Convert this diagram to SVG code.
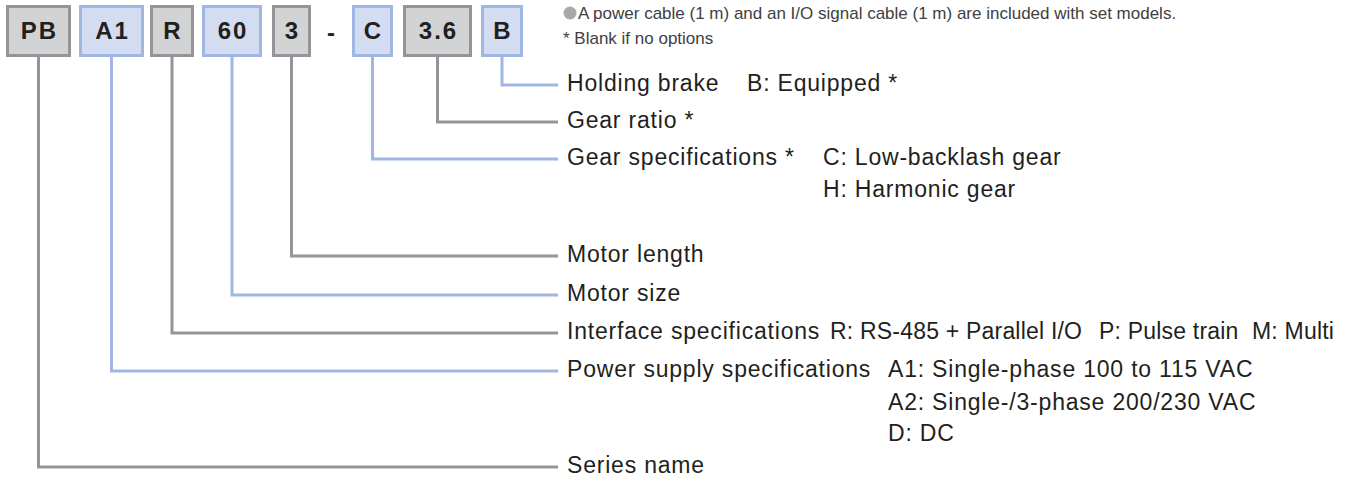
<svg xmlns="http://www.w3.org/2000/svg" width="1351" height="484" viewBox="0 0 1351 484">
<style>
.bg{fill:#d1d3d4;stroke:#939598;stroke-width:3}
.bb{fill:#d4dcf1;stroke:#9fb7e2;stroke-width:3}
.code{font-family:"Liberation Sans",Arial,sans-serif;font-weight:bold;font-size:24px;fill:#231f20;text-anchor:middle;letter-spacing:2px}
.lg{fill:none;stroke:#939598;stroke-width:3}
.lb{fill:none;stroke:#9fb7e2;stroke-width:3}
.lbl{font-family:"Liberation Sans",Arial,sans-serif;font-size:23px;fill:#231f20;letter-spacing:0.8px}
.tight{letter-spacing:0.2px}
.note{font-family:"Liberation Sans",Arial,sans-serif;font-size:17px;fill:#414042}
</style>
<rect width="1351" height="484" fill="#ffffff"/>
<g id="notes">
<circle cx="570" cy="13" r="6.5" fill="#a7a9ac"/>
<text class="note" x="578" y="19">A power cable (1 m) and an I/O signal cable (1 m) are included with set models.</text>
<text class="note" x="563" y="44">* Blank if no options</text>
</g>
<g id="connectors">
<polyline class="lg" points="38.5,57 38.5,467 558,467"/>
<polyline class="lb" points="111.5,57 111.5,371 558,371"/>
<polyline class="lg" points="172,57 172,333 558,333"/>
<polyline class="lb" points="232,57 232,295 558,295"/>
<polyline class="lg" points="291.5,57 291.5,256 558,256"/>
<polyline class="lb" points="372.5,57 372.5,159 558,159"/>
<polyline class="lg" points="437.5,57 437.5,122 558,122"/>
<polyline class="lb" points="502,57 502,85 558,85"/>
</g>
<g id="node-PB"><rect class="bg" x="7.5" y="6.5" width="62" height="49"/><text class="code" x="39.5" y="39">PB</text></g>
<g id="node-A1"><rect class="bb" x="80.5" y="6.5" width="62" height="49"/><text class="code" x="112.5" y="39">A1</text></g>
<g id="node-R"><rect class="bg" x="151.5" y="6.5" width="41" height="49"/><text class="code" x="173" y="39">R</text></g>
<g id="node-60"><rect class="bb" x="203.5" y="6.5" width="57" height="49"/><text class="code" x="233" y="39">60</text></g>
<g id="node-3"><rect class="bg" x="273.5" y="6.5" width="36" height="49"/><text class="code" x="292.5" y="39">3</text></g>
<g id="node-dash"><text class="code" x="332" y="41">-</text></g>
<g id="node-C"><rect class="bb" x="353.5" y="6.5" width="38" height="49"/><text class="code" x="373.5" y="39">C</text></g>
<g id="node-3.6"><rect class="bg" x="404.5" y="6.5" width="66" height="49"/><text class="code" x="438.5" y="39">3.6</text></g>
<g id="node-B"><rect class="bb" x="482.5" y="6.5" width="39" height="49"/><text class="code" x="503" y="39">B</text></g>
<g id="label-brake"><text class="lbl" x="567" y="91">Holding brake</text><text class="lbl" x="747" y="91">B: Equipped *</text></g>
<g id="label-ratio"><text class="lbl" x="567" y="128">Gear ratio *</text></g>
<g id="label-gear"><text class="lbl" x="567" y="165">Gear specifications *</text><text class="lbl" x="823" y="165">C: Low-backlash gear</text><text class="lbl" x="823" y="197">H: Harmonic gear</text></g>
<g id="label-length"><text class="lbl" x="567" y="262">Motor length</text></g>
<g id="label-size"><text class="lbl" x="567" y="301">Motor size</text></g>
<g id="label-interface"><text class="lbl" x="567" y="339">Interface specifications</text><text class="lbl tight" x="830" y="339">R: RS-485 + Parallel I/O</text><text class="lbl tight" x="1099" y="339">P: Pulse train</text><text class="lbl tight" x="1252" y="339">M: Multi</text></g>
<g id="label-power"><text class="lbl" x="567" y="377">Power supply specifications</text><text class="lbl" x="888" y="377">A1: Single-phase 100 to 115 VAC</text><text class="lbl" x="888" y="410">A2: Single-/3-phase 200/230 VAC</text><text class="lbl" x="888" y="441">D: DC</text></g>
<g id="label-series"><text class="lbl" x="567" y="473">Series name</text></g>
</svg>
